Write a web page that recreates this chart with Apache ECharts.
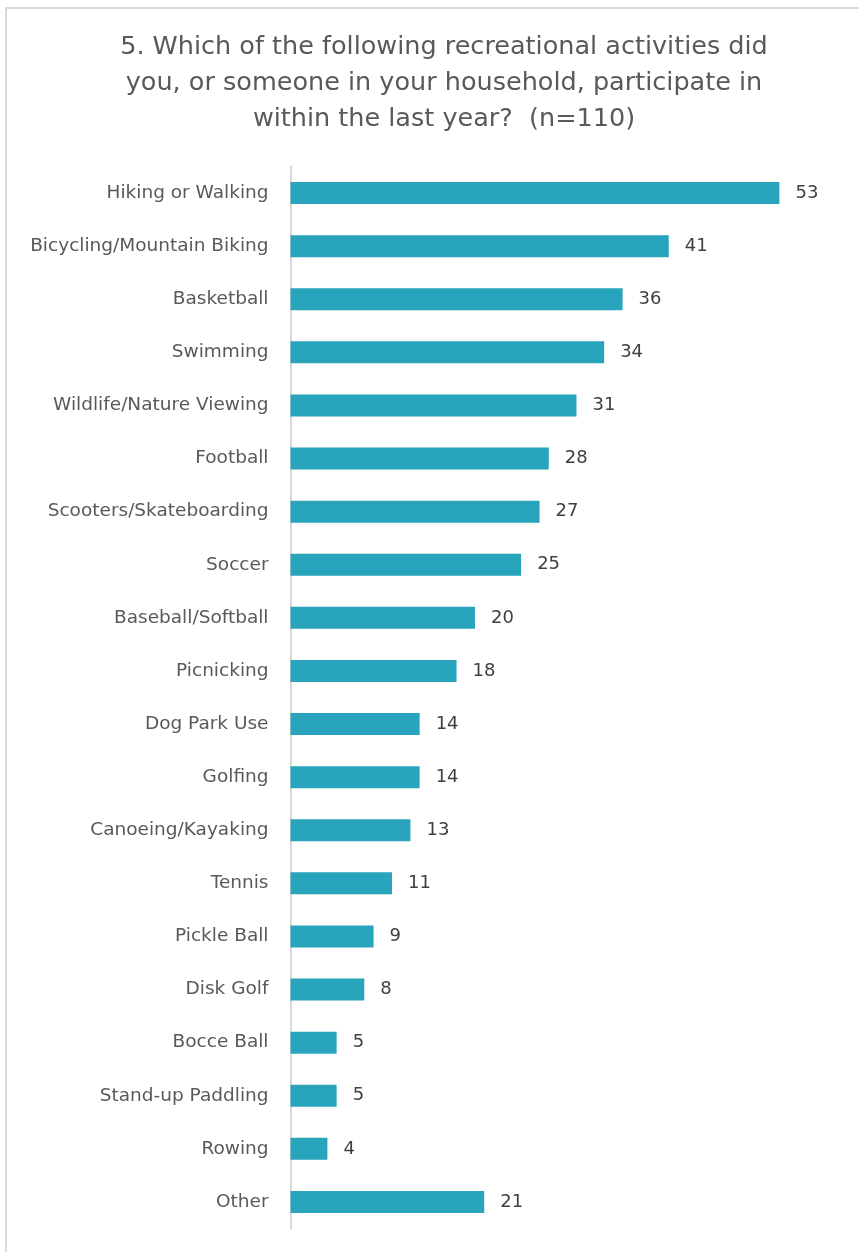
<!DOCTYPE html>
<html>
<head>
<meta charset="utf-8">
<script src="https://cdn.jsdelivr.net/npm/echarts@6/dist/echarts.min.js"></script>
<style>
html,body{margin:0;padding:0;background:#fff;}
#chart{width:859px;height:1252px;}
</style>
</head>
<body>
<div id="chart"></div>
<script>
const titleText = "5. Which of the following recreational activities did\nyou, or someone in your household, participate in\nwithin the last year?  (n=110)";
const categories = ["Hiking or Walking","Bicycling/Mountain Biking","Basketball","Swimming","Wildlife/Nature Viewing","Football","Scooters/Skateboarding","Soccer","Baseball/Softball","Picnicking","Dog Park Use","Golfing","Canoeing/Kayaking","Tennis","Pickle Ball","Disk Golf","Bocce Ball","Stand-up Paddling","Rowing","Other"];
const values = [53,41,36,34,31,28,27,25,20,18,14,14,13,11,9,8,5,5,4,21];

const chart = echarts.init(document.getElementById('chart'), null, {renderer:'canvas'});
chart.setOption({
  animation:false,
  backgroundColor:'#ffffff',
  title:{
    text:titleText,
    left:439, top:24, textAlign:'center',
    textStyle:{fontFamily:'DejaVu Sans', fontSize:25.5, fontWeight:'normal', color:'#595959', lineHeight:36}
  },
  graphic:[{
    type:'rect', shape:{x:6,y:8,width:900,height:1300},
    style:{fill:'none', stroke:'#d9d9d9', lineWidth:2}, silent:true
  }],
  grid:{left:290.5, right:15, top:166.5, bottom:23.5, containLabel:false},
  xAxis:{type:'value', min:0, max:60, show:false},
  yAxis:{
    type:'category', data:categories, inverse:true,
    axisLine:{show:true, lineStyle:{color:'#d9d9d9', width:2}},
    axisTick:{show:false},
    axisLabel:{fontFamily:'DejaVu Sans', fontSize:18.5, color:'#595959', margin:22}
  },
  series:[{
    type:'bar', data:values, barWidth:22,
    itemStyle:{color:'#28a4bd'},
    label:{show:true, position:'right', distance:16, fontFamily:'DejaVu Sans', fontSize:18, color:'#404040'}
  }]
});
</script>
</body>
</html>
